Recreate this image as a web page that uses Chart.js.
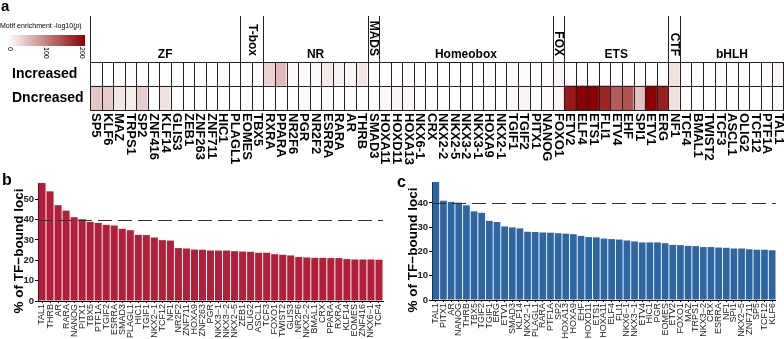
<!DOCTYPE html>
<html>
<head>
<meta charset="utf-8">
<script src="https://cdn.jsdelivr.net/npm/chart.js@4"></script>
<style>
  body { margin: 0; background: #fff; width: 784px; height: 339px; overflow: hidden; position: relative; }
  canvas { position: absolute; }
  #heat { left: 0; top: 0; }
  #barB { left: 0; top: 165px; }
  #barC { left: 392px; top: 165px; }
</style>
</head>
<body>
<canvas id="heat" width="784" height="165"></canvas>
<canvas id="barB" width="392" height="174"></canvas>
<canvas id="barC" width="392" height="174"></canvas>
<script>
const FONT = "'Liberation Sans', Arial, Helvetica, sans-serif";

// Panel a: motif columns, grouped by TF family
const motifs = ['SP5', 'KLF6', 'MAZ', 'TRPS1', 'SP2', 'ZNF416', 'KLF14', 'GLIS3', 'ZEB1', 'ZNF263', 'ZNF711', 'HIC1', 'PLAGL1',
    'EOMES', 'TBX5',
    'RXRA', 'PPARA', 'NR2F6', 'PGR', 'NR2F2', 'ESRRA', 'RARA', 'AR', 'THRB',
    'SMAD3',
    'HOXA11', 'HOXD11', 'HOXA13', 'NKX6-1', 'CRX', 'NKX2-2', 'NKX2-5', 'NKX3-2', 'NKX3-1', 'HOXA9', 'NKX2-1', 'TGIF1', 'TGIF2', 'PITX1', 'NANOG',
    'FOXO1',
    'ETV2', 'ELF4', 'ETS1', 'FLI1', 'ETV4', 'EHF', 'SPI1', 'ETV1', 'ERG',
    'NF1',
    'TCF4', 'BMAL1', 'TWIST2', 'TCF3', 'ASCL1', 'OLIG2', 'TCF12', 'PTF1A', 'TAL1'];
const families = ['ZF', 'T-box', 'NR', 'MADS', 'Homeobox', 'FOX', 'ETS', 'CTF', 'bHLH'];
const familySizes = [13, 2, 9, 1, 15, 1, 9, 1, 9];
const rowNames = ['Increased', 'Dncreased'];

// -log10(p) per motif
const increased = [0, 0, 2, 3, 1, 0, 2, 0, 0, 0, 2, 5, 0,
    2, 5,
    35, 55, 4, 4, 5, 18, 12, 8, 20,
    1,
    0, 0, 1, 2, 0, 0, 0, 0, 0, 4, 0, 2, 4, 0, 2,
    8,
    0, 0, 0, 0, 0, 0, 0, 0, 0,
    22,
    0, 3, 0, 2, 0, 3, 0, 1, 7];
const dncreased = [45, 42, 20, 16, 40, 0, 22, 0, 0, 0, 0, 0, 0,
    2, 0,
    0, 0, 0, 4, 2, 3, 2, 1, 2,
    0,
    6, 10, 7, 2, 0, 0, 0, 0, 0, 3, 0, 6, 10, 0, 3,
    9,
    180, 200, 205, 170, 128, 135, 48, 212, 175,
    24,
    0, 0, 0, 0, 0, 0, 0, 0, 5];
const legendTicks = [0, 100, 200];
const scaleMax = 200;

// Panel b
const bLabels = ['TAL1', 'THRB', 'AR', 'RARA', 'NANOG', 'PITX1', 'TBX5', 'PTF1A', 'TGIF2', 'ESRRA', 'SMAD3', 'PLAGL1', 'HIC1',
    'TGIF1', 'NKX2−1', 'TCF12', 'NF1', 'NR2F2', 'ZNF711', 'HOXA9', 'ZNF263', 'PGR', 'NKX3−1', 'NKX3−2', 'NKX2−5', 'ZEB1',
    'OLIG2', 'ASCL1', 'TCF3', 'FOXO1', 'TWIST2', 'GLIS3', 'NR2F6', 'NKX2−2', 'BMAL1', 'CRX', 'PPARA', 'RXRA', 'KLF14',
    'EOMES', 'ZNF416', 'NKX6−1', 'TCF4'];
const bValues = [58.0, 53.9, 47.1, 44.4, 41.2, 40.2, 38.9, 38.4, 37.4, 37.1, 35.5, 34.8, 32.5,
    32.4, 31.2, 29.9, 29.7, 26.0, 25.8, 25.3, 25.2, 24.8, 24.8, 24.8, 24.5, 24.3,
    24.2, 23.7, 23.7, 23.0, 22.7, 22.4, 21.6, 21.4, 21.2, 21.2, 21.1, 21.1, 20.6,
    20.4, 20.4, 20.4, 20.3];

// Panel c
const cLabels = ['TAL1', 'PITX1', 'AR', 'NANOG', 'THRB', 'TBX5', 'TGIF2', 'TGIF1', 'ERG', 'ETV1', 'SMAD3', 'KLF14', 'NKX2−1',
    'PLAGL1', 'RARA', 'PTF1A', 'SP2', 'HOXA13', 'HOXA9', 'EHF', 'HOXD11', 'ETS1', 'HOXA11', 'ELF4', 'FLI1', 'NKX6−1',
    'NKX3−1', 'ETV4', 'HIC1', 'PGR', 'EOMES', 'ETV2', 'FOXO1', 'MAZ', 'TRPS1', 'NKX3−2', 'CRX', 'ESRRA', 'NF1', 'SPI1',
    'NKX2−5', 'ZNF711', 'SP5', 'TCF12', 'KLF6'];
const cValues = [48.6, 40.9, 40.4, 40.1, 39.0, 36.5, 35.9, 32.6, 32.1, 30.3, 29.9, 29.5, 28.1,
    28.0, 27.8, 27.7, 27.5, 27.3, 27.1, 26.4, 25.9, 25.8, 25.3, 25.1, 24.9, 24.5,
    24.1, 23.7, 23.7, 23.7, 23.4, 22.7, 22.6, 22.3, 22.2, 21.8, 21.8, 21.6, 21.5, 21.2,
    21.2, 20.9, 20.7, 20.7, 20.5];
const cutoff = 40;
const yTitle = '% of TF−bound loci';

Chart.defaults.font.family = FONT;
Chart.defaults.color = '#000';

function heatColor(v) {
    const t = Math.min(v / scaleMax, 1);
    const r = Math.round(255 - (255 - 139) * t);
    const gb = Math.round(255 * (1 - t));
    return `rgb(${r},${gb},${gb})`;
}

// grid, family headers, column names, colour key
const heatDecor = {
    id: 'heatDecor',
    afterDatasetsDraw(chart) {
        const { ctx, chartArea: a, scales: { x, y } } = chart;
        const step = x.getPixelForValue(1) - x.getPixelForValue(0);
        const edge = i => x.getPixelForValue(0) - step / 2 + i * step;
        const crisp = v => Math.min(Math.round(v), chart.width - 1) + 0.5;
        ctx.save();

        ctx.strokeStyle = '#222';
        ctx.lineWidth = 1;
        ctx.beginPath();
        for (let i = 0; i <= motifs.length; i++) {
            const px = crisp(edge(i));
            ctx.moveTo(px, a.top);
            ctx.lineTo(px, a.bottom);
        }
        [0, 1, 2].forEach(v => {
            const py = crisp(y.getPixelForValue(v));
            ctx.moveTo(a.left, py);
            ctx.lineTo(a.right, py);
        });
        ctx.stroke();

        // family separators and names
        let start = 0;
        ctx.fillStyle = '#000';
        ctx.font = `bold 12px ${FONT}`;
        ctx.beginPath();
        families.forEach((fam, k) => {
            const x0 = edge(start);
            const x1 = edge(start + familySizes[k]);
            const px = crisp(x0);
            ctx.moveTo(px, 16);
            ctx.lineTo(px, a.top);
            const mid = (x0 + x1) / 2;
            if (familySizes[k] > 2) {
                ctx.textAlign = 'center';
                ctx.textBaseline = 'alphabetic';
                ctx.fillText(fam, mid, 58);
            } else {
                ctx.save();
                ctx.translate(mid, 56);
                ctx.rotate(Math.PI / 2);
                ctx.textAlign = 'right';
                ctx.textBaseline = 'middle';
                ctx.fillText(fam, 0, 0);
                ctx.restore();
            }
            start += familySizes[k];
        });
        ctx.stroke();

        // column names
        ctx.font = `bold 13px ${FONT}`;
        motifs.forEach((m, i) => {
            ctx.save();
            ctx.translate(x.getPixelForValue(i), a.bottom + 3);
            ctx.rotate(Math.PI / 2);
            ctx.textAlign = 'left';
            ctx.textBaseline = 'middle';
            ctx.fillText(m, 0, 0);
            ctx.restore();
        });

        // colour key
        ctx.textAlign = 'left';
        ctx.textBaseline = 'alphabetic';
        ctx.font = `7px ${FONT}`;
        const head = 'Motif enrichment -log10(';
        ctx.fillText(head, 0, 27.5);
        let tx = ctx.measureText(head).width;
        ctx.font = `italic 7px ${FONT}`;
        ctx.fillText('p', tx, 27.5);
        tx += ctx.measureText('p').width;
        ctx.font = `7px ${FONT}`;
        ctx.fillText(')', tx, 27.5);
        const grad = ctx.createLinearGradient(8, 0, 85, 0);
        grad.addColorStop(0, heatColor(0));
        grad.addColorStop(0.5, heatColor(scaleMax / 2));
        grad.addColorStop(1, heatColor(scaleMax));
        ctx.fillStyle = grad;
        ctx.fillRect(8, 35, 77, 11);
        ctx.fillStyle = '#000';
        legendTicks.forEach(t => {
            ctx.save();
            ctx.translate(10 + (t / scaleMax) * 72, 47);
            ctx.rotate(Math.PI / 2);
            ctx.textBaseline = 'middle';
            ctx.fillText(String(t), 0, 0);
            ctx.restore();
        });

        ctx.font = `bold 15px ${FONT}`;
        ctx.fillText('a', 1, 11);
        ctx.restore();
    }
};

new Chart(document.getElementById('heat'), {
    type: 'bar',
    data: {
        labels: motifs,
        datasets: [
            { label: rowNames[1], data: motifs.map(() => 1), backgroundColor: dncreased.map(heatColor) },
            { label: rowNames[0], data: motifs.map(() => 1), backgroundColor: increased.map(heatColor) }
        ]
    },
    options: {
        responsive: false,
        animation: false,
        devicePixelRatio: 1,
        layout: { padding: { top: 62, left: 12, right: 0, bottom: 0 } },
        datasets: { bar: { barPercentage: 1, categoryPercentage: 1, borderWidth: 0 } },
        plugins: { legend: { display: false }, tooltip: { enabled: false } },
        scales: {
            x: {
                stacked: true,
                ticks: { display: false },
                grid: { display: false },
                border: { display: false },
                afterFit: s => { s.height = 55; }
            },
            y: {
                stacked: true,
                min: 0,
                max: 2,
                afterBuildTicks: s => { s.ticks = [{ value: 0.5 }, { value: 1.5 }]; },
                ticks: {
                    callback: v => v > 1 ? rowNames[0] : rowNames[1],
                    font: { size: 14, weight: 'bold' },
                    color: '#000',
                    crossAlign: 'far',
                    padding: 0
                },
                grid: { display: false },
                border: { display: false },
                afterFit: s => { s.width = 78; }
            }
        }
    },
    plugins: [heatDecor]
});

// dashed 40% line
const cutoffLine = {
    id: 'cutoffLine',
    afterDatasetsDraw(chart) {
        const { ctx, chartArea: a, scales: { y } } = chart;
        const py = Math.round(y.getPixelForValue(cutoff)) + 0.5;
        ctx.save();
        ctx.strokeStyle = '#333';
        ctx.lineWidth = 1.2;
        ctx.setLineDash([14, 6]);
        ctx.beginPath();
        ctx.moveTo(a.left, py);
        ctx.lineTo(a.right, py);
        ctx.stroke();
        ctx.restore();
    }
};

// panel letter and y axis title (title sits a bit below the panel centre, as in the figure)
const panelText = {
    id: 'panelText',
    afterDraw(chart, args, opts) {
        const { ctx, chartArea: a } = chart;
        ctx.save();
        ctx.fillStyle = '#000';
        ctx.font = `bold 16px ${FONT}`;
        ctx.textAlign = 'left';
        ctx.fillText(opts.text, opts.x, opts.y);
        ctx.translate(opts.titleX, (a.top + a.bottom) / 2 + 9);
        ctx.rotate(-Math.PI / 2);
        ctx.font = `bold 13.5px ${FONT}`;
        ctx.textAlign = 'center';
        ctx.textBaseline = 'middle';
        ctx.fillText(yTitle, 0, 0);
        ctx.restore();
    }
};

function barChart(id, labels, values, color, letter, axisWidth, layout, axisHeight) {
    return new Chart(document.getElementById(id), {
        type: 'bar',
        data: {
            labels: labels,
            datasets: [{ data: values, backgroundColor: color, barPercentage: 0.88, categoryPercentage: 1 }]
        },
        options: {
            responsive: false,
            animation: false,
            devicePixelRatio: 1,
            layout: { padding: layout },
            plugins: {
                legend: { display: false },
                tooltip: { enabled: false },
                panelText: letter
            },
            scales: {
                x: {
                    ticks: { autoSkip: false, minRotation: 90, maxRotation: 90, font: { size: 9 }, color: '#222', padding: 1 },
                    grid: { drawOnChartArea: false, offset: false, tickLength: 2, color: '#000' },
                    border: { color: '#000', width: 1 },
                    afterFit: s => { s.height = axisHeight; }
                },
                y: {
                    min: 0,
                    max: Math.max(...values),
                    ticks: { stepSize: 10, includeBounds: false, font: { size: 9.5, weight: 'bold' }, color: '#222', padding: 1 },
                    grid: { drawOnChartArea: false, tickLength: 3, color: '#000' },
                    border: { color: '#000', width: 1 },
                    afterFit: s => { s.width = axisWidth; }
                }
            }
        },
        plugins: [cutoffLine, panelText]
    });
}

barChart('barB', bLabels, bValues, '#B0203A', { text: 'b', x: 2, y: 20, titleX: 19 }, 38, { top: 18, right: 9, left: 0, bottom: 0 }, 38);
barChart('barC', cLabels, cValues, '#2E66A3', { text: 'c', x: 5, y: 22, titleX: 21 }, 40, { top: 17, right: 7, left: 0, bottom: 0 }, 39);
</script>
</body>
</html>
